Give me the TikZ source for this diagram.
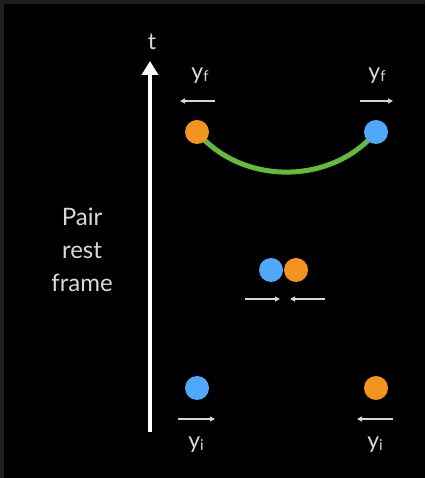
\documentclass[tikz,border=0pt]{standalone}
\usepackage{fontspec}
\setmainfont{Lato}
\usepackage{xcolor}
\usetikzlibrary{arrows.meta}
\definecolor{pairorange}{HTML}{F39320}
\definecolor{pairblue}{HTML}{4FA8FA}
\definecolor{pairgreen}{HTML}{63BB3C}
\definecolor{pairframe}{HTML}{1E1E1E}
\definecolor{pairtext}{HTML}{D8D8D8}
\newcommand{\lowsub}[1]{\raisebox{-2pt}{\fontsize{15}{15}\selectfont #1}}
\tikzset{
    pairball/.style={circle, minimum size=24pt, inner sep=0pt},
    pairo/.style={pairball, fill=pairorange},
    pairb/.style={pairball, fill=pairblue},
    pairlabel/.style={text=pairtext, font=\fontsize{23}{23}\selectfont, inner sep=0pt},
    pairvel/.style={draw=pairtext, line width=1.4pt, -{Triangle[length=5pt, width=5pt]}},
    pairaxis/.style={draw=white, line width=4pt, -{Triangle[length=14pt, width=16pt]}},
    pairpath/.style={draw=pairgreen, line width=5pt}
}

\begin{document}
\begin{tikzpicture}[x=1pt, y=1pt]
    \fill[pairframe] (0,0) rectangle (425,478);
    \fill[black] (4,0) rectangle (425,474);

    % time axis
    \coordinate (tbot) at (150,46);
    \coordinate (ttop) at (150,417);
    \draw[pairaxis] (tbot) -- (ttop);
    \node[pairlabel] (tlab) at (152,436) {t};
    \node[pairlabel, align=center, font=\fontsize{24}{33}\selectfont] (frame) at (82,228) {Pair\\rest\\frame};

    % final state
    \coordinate (ofc) at (197,346);
    \coordinate (bfc) at (376,346);
    \draw[pairpath] (ofc) to[bend right=50] (bfc);
    \node[pairo] (ofin) at (ofc) {};
    \node[pairb] (bfin) at (bfc) {};
    \node[pairlabel] (yfl) at (200,402) {y\lowsub{f}};
    \node[pairlabel] (yfr) at (377,402) {y\lowsub{f}};
    \coordinate (fla) at (215,377);
    \coordinate (flb) at (180,377);
    \coordinate (fra) at (360,377);
    \coordinate (frb) at (393,377);
    \draw[pairvel] (fla) -- (flb);
    \draw[pairvel] (fra) -- (frb);

    % collision
    \node[pairb] (bmid) at (271,208) {};
    \node[pairo] (omid) at (296,208) {};
    \coordinate (mla) at (245,179);
    \coordinate (mlb) at (280,179);
    \coordinate (mra) at (325,179);
    \coordinate (mrb) at (290,179);
    \draw[pairvel] (mla) -- (mlb);
    \draw[pairvel] (mra) -- (mrb);

    % initial state
    \node[pairb] (bini) at (197,90) {};
    \node[pairo] (oini) at (376,90) {};
    \coordinate (ila) at (178,59);
    \coordinate (ilb) at (215,59);
    \coordinate (ira) at (393,59);
    \coordinate (irb) at (357,59);
    \draw[pairvel] (ila) -- (ilb);
    \draw[pairvel] (ira) -- (irb);
    \node[pairlabel] (yil) at (196,33) {y\lowsub{i}};
    \node[pairlabel] (yir) at (375,33) {y\lowsub{i}};
\end{tikzpicture}
\end{document}
